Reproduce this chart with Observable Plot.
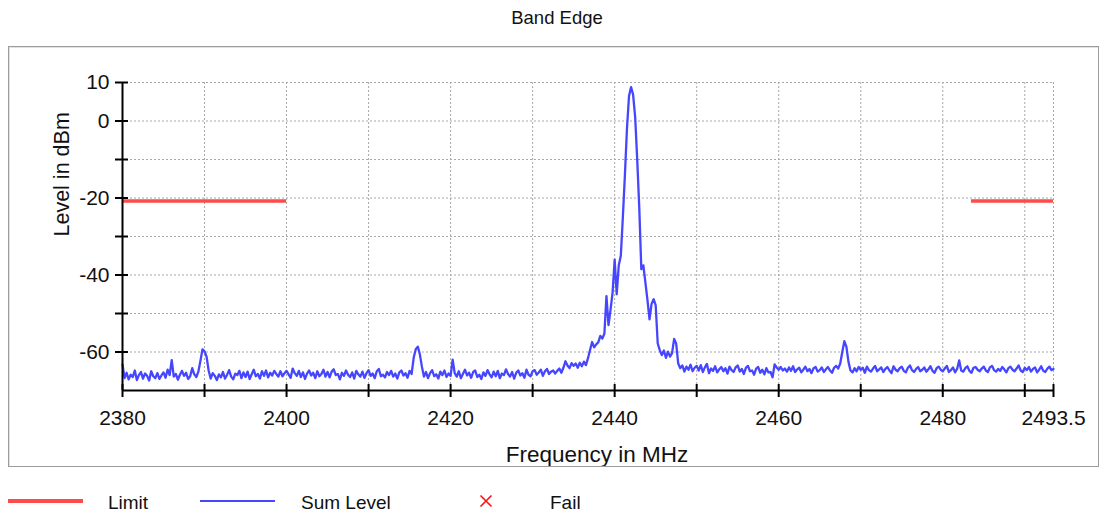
<!DOCTYPE html>
<html>
<head>
<meta charset="utf-8">
<script src="https://cdn.jsdelivr.net/npm/d3@7"></script>
<script src="https://cdn.jsdelivr.net/npm/@observablehq/plot@0.6"></script>
<style>
  html, body { margin: 0; padding: 0; background: #fff; }
  body { font-family: "Liberation Sans", Arial, sans-serif; color: #111; }
  #wrap { position: relative; width: 1099px; height: 514px; overflow: hidden; background: #fff; }
  #title { position: absolute; left: 0; width: 1114px; top: 8px; text-align: center; font-size: 18.5px; line-height: 19px; }
  #chart { position: absolute; left: 10px; top: 47px; }
  #panel { position: absolute; left: 8px; top: 46px; width: 1089px; height: 419px; border: 1px solid #9c9c9c;
           box-shadow: inset 1px 1px 0 #e2e2e2; pointer-events: none; }
  .lg-line { position: absolute; }
  .lg-text { position: absolute; top: 493px; font-size: 19px; line-height: 19px; color: #111; }
</style>
</head>
<body>
<div id="wrap">
  <div id="title"></div>
  <div id="chart"></div>
  <div id="panel"></div>
  <div id="legend"></div>
</div>
<script>
// ---- data ----
const chartTitle = "Band Edge";
const xLabel = "Frequency in MHz";
const yLabel = "Level in dBm";

// sweep grid of the analyzer trace (MHz)
const sweepStart = 2380;
const sweepStep = 0.25;
// Sum Level trace (dBm), one value per sweep point, 2380 .. 2493.5 MHz
const sumLevel = [
  -63.2, -66.8, -65.4, -67.1, -65.9, -66.5, -64.8, -67.3, -66.0, -65.2,
  -66.9, -65.6, -66.2, -67.4, -65.0, -66.3, -66.8, -65.5, -67.0, -66.1,
  -65.3, -66.7, -64.6, -66.0, -62.1, -66.4, -65.7, -67.2, -65.9, -64.9,
  -66.2, -65.4, -67.0, -66.3, -64.2, -65.8, -66.5, -65.1, -62.3, -59.3,
  -59.8, -61.2, -64.8, -66.9, -65.5, -66.2, -67.3, -65.8, -66.6, -65.2,
  -66.9, -65.9, -64.7, -66.4, -67.1, -65.6, -66.0, -64.9, -66.8, -65.3,
  -66.5, -65.1, -67.0, -65.8, -64.6, -66.3, -65.7, -66.9, -65.0, -66.2,
  -64.8, -66.6, -65.4, -66.1, -64.9, -65.7, -66.4, -65.0, -66.3, -65.5,
  -64.9,
  -65.8, -66.7, -64.3, -65.5, -66.2, -64.9, -66.5, -65.3, -67.0, -65.6,
  -64.8, -66.1, -65.4, -66.8, -65.0, -66.3, -65.7, -64.6, -66.4, -65.2,
  -66.6, -65.1, -64.5, -66.0, -65.7, -67.1, -65.4, -66.2, -64.8, -65.9,
  -66.5, -65.3, -66.9, -64.9, -65.8, -66.4, -65.1, -66.7, -65.5, -64.7,
  -66.2, -65.6, -66.8, -65.0, -64.4, -66.3, -65.9, -66.6, -65.2, -66.0,
  -64.9, -66.4, -65.6, -66.9, -65.3, -64.8, -66.1, -65.5, -66.7, -64.9,
  -65.7, -61.5, -59.3, -58.6, -60.6, -63.8, -66.4, -65.2, -66.8, -65.5,
  -64.7, -66.3, -65.8, -66.9, -65.1, -66.0, -64.8, -66.5, -65.6, -66.2,
  -62.0, -65.5, -66.4, -65.0, -66.8, -65.7, -64.6, -66.1, -65.4, -66.7,
  -65.2, -64.8, -66.5, -65.9, -67.0, -65.3, -66.2, -64.7, -65.8, -66.6,
  -65.1, -66.3, -64.9, -66.8, -65.6, -66.0, -64.5, -65.7, -66.4, -65.2,
  -66.9, -65.4, -64.8, -66.1, -65.5, -66.7, -64.6, -65.9, -66.3, -65.0,
  -64.7, -65.9, -65.3, -64.6, -66.2, -65.0, -64.4, -65.7, -65.1, -64.8,
  -65.6, -64.9, -64.3, -65.4, -64.1, -62.4, -63.5, -64.2, -62.9, -63.6,
  -63.0, -64.1, -62.8, -63.7, -62.5, -63.4, -61.6, -59.5, -57.4, -58.8,
  -58.0, -57.5, -55.8, -56.5, -55.2, -45.5, -53.0, -49.0, -44.5, -36.0,
  -45.0, -37.5, -35.0, -25.0, -14.0, -2.0, 6.5, 8.8, 6.8, 1.0,
  -10.0, -22.5, -38.5, -37.5, -42.0, -46.5, -51.5, -47.5, -46.3, -47.8,
  -57.8, -59.5, -60.8, -59.6, -61.5, -59.9, -61.2, -60.3, -56.6, -57.8,
  -63.0, -64.2, -63.5, -65.1, -63.8, -64.6, -63.3, -65.0, -64.1, -63.6,
  -64.8, -63.4, -65.2, -64.0, -63.1, -65.5, -64.3, -64.9, -63.7, -65.3,
  -64.5, -63.9, -65.0, -64.2, -65.6, -63.8, -64.7, -65.2, -64.0, -63.5,
  -65.1, -64.4, -65.7, -64.1, -63.6, -65.0, -64.8, -65.9, -64.3, -63.9,
  -65.4, -64.6, -65.8, -64.2, -65.3, -65.2, -66.6, -63.2, -64.0, -64.6,
  -63.9, -64.8, -64.3, -65.1, -64.0, -64.9, -63.7, -65.2, -64.5, -64.1,
  -65.3, -64.6, -63.8, -65.0, -64.4, -65.5, -64.2, -63.9, -65.1, -64.7,
  -64.0, -65.2, -64.5, -63.9, -64.8, -65.4, -64.1, -63.6, -64.3, -63.0,
  -60.0, -57.2, -58.6, -62.5, -64.8, -65.3, -64.2, -65.0, -63.9, -64.6,
  -64.1, -65.4, -63.8, -64.7, -65.1, -64.3, -63.6, -65.0, -64.5, -64.0,
  -65.2, -64.4, -63.9, -64.8, -65.5, -63.7, -64.6, -65.0, -64.2, -63.8,
  -64.9, -65.3, -64.1, -63.5, -64.7, -65.2, -64.4, -63.9, -65.0, -64.6,
  -64.0, -65.1, -64.5, -63.7, -64.9, -65.4, -64.2, -63.8, -64.6, -65.0,
  -64.3, -63.6, -65.2, -64.7, -64.0, -65.3, -64.4, -62.2, -64.8, -65.1,
  -64.2, -63.7, -64.9, -65.4, -64.1, -63.9, -64.6, -65.0, -64.3, -63.8,
  -64.8, -65.2, -64.0, -63.6, -64.7, -65.1, -64.4, -64.9, -63.9, -64.5,
  -65.3, -64.2, -63.8, -64.6, -65.0, -64.3, -63.5, -64.8, -65.2, -64.1,
  -64.7, -63.9, -65.1, -64.4, -64.0, -65.3, -64.6, -63.7, -64.9, -65.2,
  -64.3, -63.8, -64.7, -64.4
];

// limit line segments
const limitStart = [2380, 2483.5];
const limitStop  = [2400, 2493.5];
const limitLevel = [-20.8, -20.8];

// axes
const xDomain = [2380, 2493.5];
const yDomain = [-70, 10];
const xTickMarks = [2380, 2390, 2400, 2410, 2420, 2430, 2440, 2450, 2460, 2470, 2480, 2490, 2493.5];
const xTickLabels = [2380, 2400, 2420, 2440, 2460, 2480, 2493.5];
const xGrid = [2390, 2400, 2410, 2420, 2430, 2440, 2450, 2460, 2470, 2480, 2490, 2493.5];
const yTickMarks = [10, 0, -10, -20, -30, -40, -50, -60];
const yTickLabels = [10, 0, -20, -40, -60];
const yGrid = [10, 0, -10, -20, -30, -40, -50, -60];

// legend
const legendNames = ["Limit", "Sum Level", "Fail"];

// ---- build ----
const traceColor = "#4646ff";
const limitColor = "#ff4b4b";
const W = 1087, H = 419;
const mL = 112, mT = 35, mR = 44, mB = 76;
const plotW = W - mL - mR, plotH = H - mT - mB;

const trace = sumLevel.map((v, i) => ({f: sweepStart + i * sweepStep, v}));
const limits = limitStart.map((s, i) => ({x1: s, x2: limitStop[i], y: limitLevel[i]}));

document.getElementById("title").textContent = chartTitle;

const chart = Plot.plot({
  width: W,
  height: H,
  marginLeft: mL, marginTop: mT, marginRight: mR, marginBottom: mB,
  x: {domain: xDomain, axis: null},
  y: {domain: yDomain, axis: null},
  style: {fontFamily: "'Liberation Sans', Arial, sans-serif", fontSize: "21px", color: "#111", background: "transparent"},
  marks: [
    Plot.ruleX(xGrid, {x: d => d, stroke: "#a8a8a8", strokeWidth: 1, strokeDasharray: "2,2"}),
    Plot.ruleY(yGrid, {y: d => d, stroke: "#a8a8a8", strokeWidth: 1, strokeDasharray: "2,2"}),
    Plot.ruleY(limits, {y: "y", x1: "x1", x2: "x2", stroke: limitColor, strokeWidth: 3.5}),
    Plot.line(trace, {x: "f", y: "v", stroke: traceColor, strokeWidth: 2.3}),
    Plot.ruleX([xDomain[0]], {x: d => d, stroke: "#000", strokeWidth: 2}),
    Plot.ruleY([yDomain[0]], {y: d => d, stroke: "#000", strokeWidth: 2}),
    Plot.tickX(xTickMarks, {x: d => d, stroke: "#000", strokeWidth: 2, insetTop: plotH - 6, insetBottom: -7}),
    Plot.tickY(yTickMarks, {y: d => d, stroke: "#000", strokeWidth: 2, insetLeft: -7, insetRight: plotW - 6}),
    Plot.axisX({ticks: xTickLabels, tickSize: 0, tickPadding: 20, tickFormat: d => String(d), fontSize: 21, label: null, fill: "#111"}),
    Plot.axisY({ticks: yTickLabels, tickSize: 0, tickPadding: 13, tickFormat: d => String(d), fontSize: 21, label: null, fill: "#111"}),
    Plot.text([xLabel], {text: d => d, frameAnchor: "bottom", dx: 9, dy: 64, lineAnchor: "middle", fontSize: 22.5, fill: "#111"}),
    Plot.text([yLabel], {text: d => d, frameAnchor: "left", dx: -60, rotate: -90, lineAnchor: "middle", fontSize: 21.5, fill: "#111"})
  ]
});
chart.style.overflow = "hidden";
document.getElementById("chart").appendChild(chart);

// ---- legend ----
const legend = document.getElementById("legend");
function add(html) { legend.insertAdjacentHTML("beforeend", html); }
add(`<div class="lg-line" style="left:8px;top:499px;width:75px;height:4px;background:${limitColor}"></div>`);
add(`<div class="lg-text" style="left:108px">${legendNames[0]}</div>`);
add(`<div class="lg-line" style="left:200px;top:500px;width:75px;height:2px;background:${traceColor}"></div>`);
add(`<div class="lg-text" style="left:301px">${legendNames[1]}</div>`);
add(`<svg class="lg-line" style="left:479px;top:494px" width="14" height="14"><path d="M1.5,1.5L12.5,12.5M12.5,1.5L1.5,12.5" stroke="#ff1010" stroke-width="1.6"/></svg>`);
add(`<div class="lg-text" style="left:550px">${legendNames[2]}</div>`);
</script>
</body>
</html>
